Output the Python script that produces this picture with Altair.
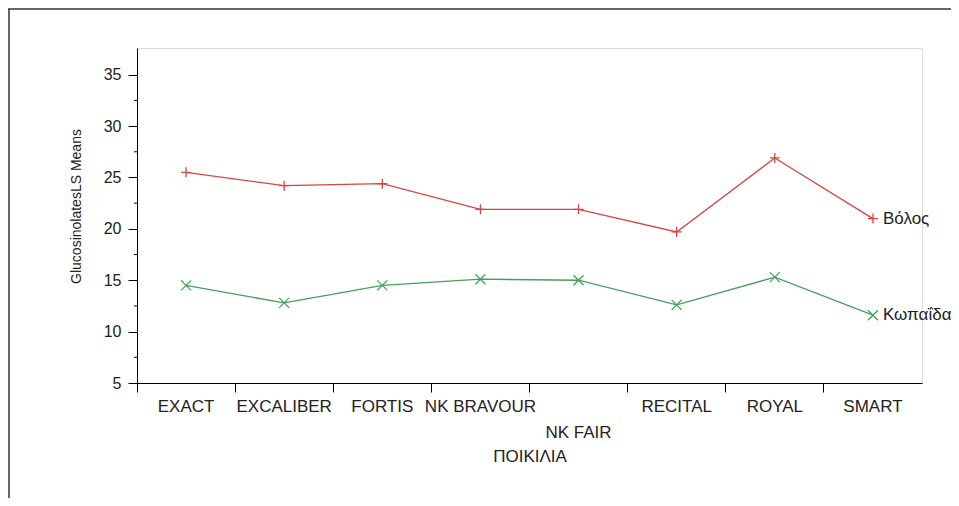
import altair as alt
import pandas as pd

varieties = ["EXACT", "EXCALIBER", "FORTIS", "NK BRAVOUR", "NK FAIR", "RECITAL", "ROYAL", "SMART"]
volos = [25.5, 24.2, 24.4, 21.9, 21.9, 19.7, 26.9, 21.0]
kopaida = [14.5, 12.8, 14.5, 15.1, 15.0, 12.6, 15.3, 11.6]
series_names = ["Βόλος", "Κωπαΐδα"]
series_colors = ["#d64541", "#45a05a"]
y_ticks = [5, 10, 15, 20, 25, 30, 35]
y_minor = [7.5, 12.5, 17.5, 22.5, 27.5, 32.5]

rows = []
for name, vals in zip(series_names, [volos, kopaida]):
    for v, val in zip(varieties, vals):
        rows.append({"variety": v, "series": name, "value": val})
df = pd.DataFrame(rows)
minor_df = pd.DataFrame({"m": y_minor})

FONT = "Liberation Sans"
W, H = 785, 335

xenc = alt.X(
    "variety:N", sort=varieties,
    scale=alt.Scale(type="band", paddingInner=0, paddingOuter=0),
    axis=alt.Axis(
        title="ΠΟΙΚΙΛΙΑ", bandPosition=0, labelAngle=0,
        labelPadding={"condition": {"test": "datum.value == 'NK FAIR'", "value": 32}, "value": 6},
        tickSize=9, tickColor="black", domainColor="black", labelColor="#222",
        labelFont=FONT, labelFontSize=17, titleFont=FONT, titleFontSize=17,
        titleFontWeight="normal", titleColor="#222", titlePadding=8,
        labelOverlap=False,
    ),
)
yscale = alt.Scale(domain=[5, 37.6], nice=False, zero=False)
yenc = alt.Y(
    "value:Q", scale=yscale,
    axis=alt.Axis(
        title="GlucosinolatesLS Means", values=y_ticks, tickSize=9, tickColor="black",
        domainColor="black", labelColor="#222", labelFont=FONT, labelFontSize=16,
        labelPadding=7, titleFont=FONT, titleFontSize=14, titleFontWeight="normal",
        titleColor="#222", titlePadding=20, titleY=158, grid=False,
    ),
)
color = alt.Color("series:N", scale=alt.Scale(domain=series_names, range=series_colors), legend=None)

base = alt.Chart(df).encode(x=xenc, y=yenc, color=color)
lines = base.mark_line(strokeWidth=1.3)
pts = base.mark_point(filled=False, strokeWidth=1.3, size=100, opacity=1).encode(
    shape=alt.Shape("series:N", scale=alt.Scale(
        domain=series_names,
        range=["M-1,0L1,0M0,-1L0,1", "M-1,-1L1,1M-1,1L1,-1"]), legend=None)
)
labels = alt.Chart(df).transform_filter(alt.datum.variety == "SMART").mark_text(
    align="left", baseline="middle", dx=10, font=FONT, fontSize=17, color="#222"
).encode(x=alt.X("variety:N", sort=varieties), y=alt.Y("value:Q", scale=yscale), text="series:N")

minor = alt.Chart(minor_df).mark_rule(color="black", strokeWidth=1).encode(
    x=alt.value(-3), x2=alt.value(0), y=alt.Y("m:Q", scale=yscale)
)
one = alt.Data(values=[{"a": 1}])
top_frame = alt.Chart(one).mark_rule(color="#333", strokeWidth=1.5).encode(
    x=alt.value(-129), x2=alt.value(814), y=alt.value(-39)
)
left_frame = alt.Chart(one).mark_rule(color="#333", strokeWidth=1.5).encode(
    x=alt.value(-128), y=alt.value(-39), y2=alt.value(450)
)

chart = alt.layer(lines, pts, labels, minor, top_frame, left_frame).properties(
    width=W, height=H,
    autosize=alt.AutoSizeParams(type="none"),
    padding={"left": 129, "top": 40, "right": 29, "bottom": 115},
).configure_view(stroke="black", strokeWidth=1).configure(background="white")

chart.save("out.html", embed_options={"renderer": "svg", "actions": False})
